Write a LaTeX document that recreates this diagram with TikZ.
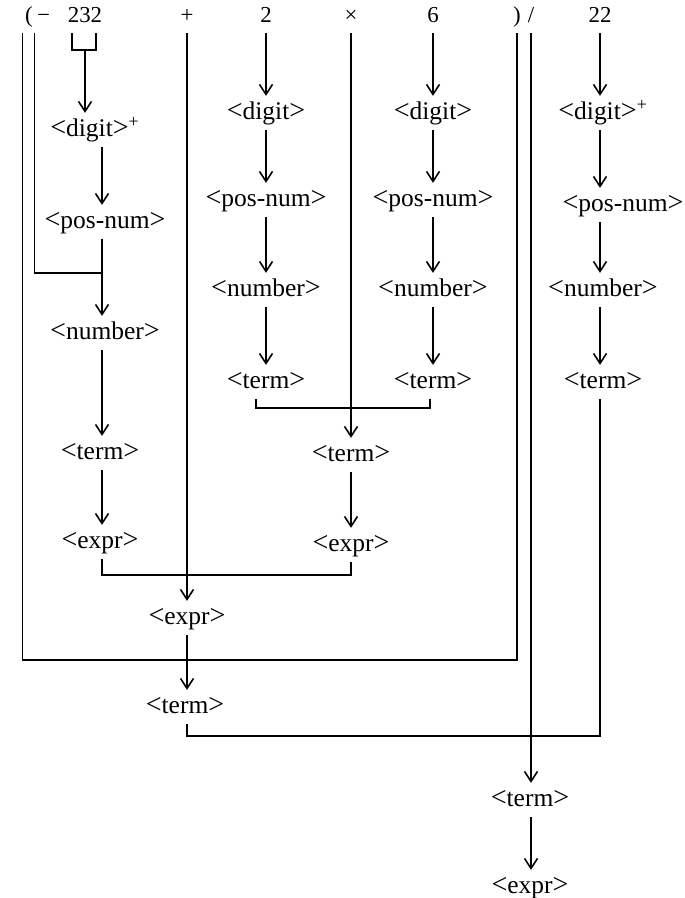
\documentclass[tikz,border=0pt]{standalone}
\usepackage{fontspec}
\setmainfont{Liberation Serif}
\usepackage{tikz}
\usetikzlibrary{arrows.meta}

\newcommand{\angl}{{\fontsize{16}{16}\selectfont<}}
\newcommand{\angr}{{\fontsize{16}{16}\selectfont>}}
\newcommand{\nonterm}[1]{\angl#1\angr}

\begin{document}
\begin{tikzpicture}[
  >={Straight Barb[length=2mm,width=2.6mm]},
  line width=0.9pt,
  tok/.style={font=\fontsize{13}{14}\selectfont,inner ysep=2pt,inner xsep=1pt,text height=9pt,text depth=3.5pt},
  nt/.style={font=\fontsize{14.5}{16}\selectfont,inner sep=2pt,text height=11pt,text depth=3.6pt}]

  \useasboundingbox (0,0) rectangle (13.68,-17.96);

  % the input string
  \node[tok] (lpar)  at (0.58,-0.36)  {(};
  \node[tok] (minus) at (0.87,-0.36)  {−};
  \node[tok] (n232)  at (1.7,-0.36)   {232};
  \node[tok] (plus)  at (3.74,-0.36)  {+};
  \node[tok] (two)   at (5.32,-0.36)  {2};
  \node[tok] (times) at (7.02,-0.36)  {×};
  \node[tok] (six)   at (8.66,-0.36)  {6};
  \node[tok] (rpar)  at (10.34,-0.36) {)};
  \node[tok] (slash) at (10.62,-0.36) {/};
  \node[tok] (n22)   at (12.0,-0.36)  {22};

  % -232
  \node[nt] (digA)  at (1.9,-2.6)    {\nonterm{digit}\textsuperscript{+}};
  \node[nt] (posA)  at (2.1,-4.44)   {\nonterm{pos-num}};
  \node[nt] (numA)  at (2.1,-6.66)   {\nonterm{number}};
  \node[nt] (termA) at (2.0,-9.06)   {\nonterm{term}};
  \node[nt] (exprA) at (2.0,-10.84)  {\nonterm{expr}};
  \coordinate (brk) at (1.7,-1.0);
  \coordinate (colA) at (2.04,-5.46);
  \draw ([xshift=-0.26cm]n232.south) |- (brk) -| ([xshift=0.22cm]n232.south);
  \draw[->] (brk) -- (digA.north -| brk);
  \draw[->] (digA.south -| colA) -- (posA.north -| colA);
  \draw (minus.south west) |- (colA);
  \draw[->] (posA.south -| colA) -- (numA.north -| colA);
  \draw[->] (numA.south -| colA) -- (termA.north -| colA);
  \draw[->] (termA.south -| colA) -- (exprA.north -| colA);

  % 2 and 6
  \node[nt] (digB)  at (5.32,-2.26) {\nonterm{digit}};
  \node[nt] (posB)  at (5.32,-4.0)  {\nonterm{pos-num}};
  \node[nt] (numB)  at (5.32,-5.8)  {\nonterm{number}};
  \node[nt] (termB) at (5.32,-7.64) {\nonterm{term}};
  \node[nt] (digC)  at (8.66,-2.26) {\nonterm{digit}};
  \node[nt] (posC)  at (8.66,-4.0)  {\nonterm{pos-num}};
  \node[nt] (numC)  at (8.66,-5.8)  {\nonterm{number}};
  \node[nt] (termC) at (8.66,-7.64) {\nonterm{term}};
  \draw[->] (two) -- (digB);
  \draw[->] (digB) -- (posB);
  \draw[->] (posB) -- (numB);
  \draw[->] (numB) -- (termB);
  \draw[->] (six) -- (digC);
  \draw[->] (digC) -- (posC);
  \draw[->] (posC) -- (numC);
  \draw[->] (numC) -- (termC);

  % 2 x 6
  \node[nt] (termD) at (7.02,-9.1) {\nonterm{term}};
  \node[nt] (exprD) at (7.02,-10.9) {\nonterm{expr}};
  \coordinate (jD) at (7.02,-8.16);
  \draw ([xshift=-0.2cm]termB.south) |- (jD) -| ([xshift=-0.06cm]termC.south);
  \draw[->] (times) -- (termD);
  \draw[->] (termD) -- (exprD);

  % -232 + 2 x 6
  \node[nt] (exprE) at (3.74,-12.36) {\nonterm{expr}};
  \node[nt] (termE) at (3.7,-14.14)  {\nonterm{term}};
  \coordinate (jE) at (3.74,-11.5);
  \draw (exprA.south -| colA) |- (jE) -| (exprD.south);
  \draw[->] (plus) -- (exprE);
  \draw[->] (exprE) -- (termE.north -| exprE);
  \coordinate (pbr) at (10.34,-13.2);
  \draw (lpar.south west) |- (pbr) -- (rpar.south);

  % 22
  \node[nt] (digF)  at (12.06,-2.26) {\nonterm{digit}\textsuperscript{+}};
  \node[nt] (posF)  at (12.46,-4.1)  {\nonterm{pos-num}};
  \node[nt] (numF)  at (12.06,-5.8)  {\nonterm{number}};
  \node[nt] (termF) at (12.06,-7.64) {\nonterm{term}};
  \draw[->] (n22) -- (digF.north -| n22);
  \draw[->] (digF.south -| n22) -- (posF.north -| n22);
  \draw[->] (posF.south -| n22) -- (numF.north -| n22);
  \draw[->] (numF.south -| n22) -- (termF.north -| n22);

  % ( ... ) / 22
  \node[nt] (termG) at (10.6,-16.0)  {\nonterm{term}};
  \node[nt] (exprG) at (10.6,-17.74) {\nonterm{expr}};
  \coordinate (jG) at (10.6,-14.72);
  \draw (termE.south -| exprE) |- (jG) -| (termF.south -| n22);
  \draw[->] (slash) -- (termG.north -| slash);
  \draw[->] (termG.south -| slash) -- (exprG.north -| slash);
\end{tikzpicture}
\end{document}
